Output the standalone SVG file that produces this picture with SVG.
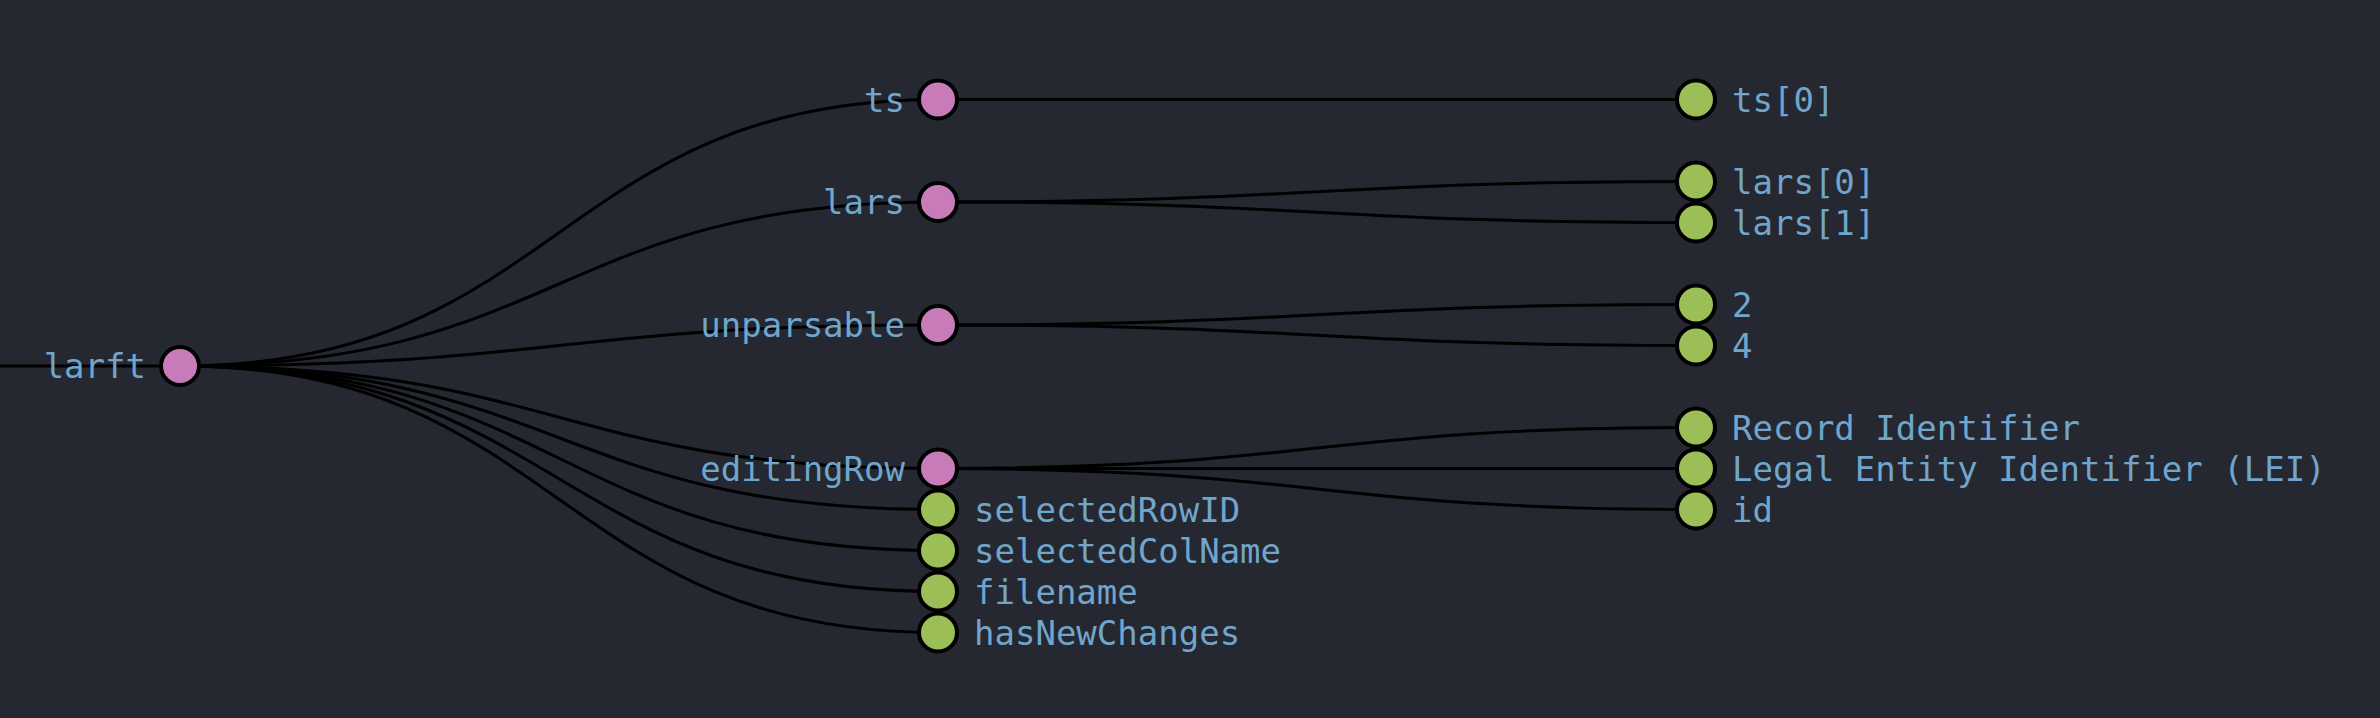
<svg xmlns="http://www.w3.org/2000/svg" width="2380" height="718" viewBox="0 0 2380 718">
<style>
.bg{fill:#252831}
.e{fill:none;stroke:#000;stroke-width:3}
.n circle{stroke:#000;stroke-width:4}
.p circle{fill:#c77bb8}
.l circle{fill:#9bbf56}
text{font-family:"DejaVu Sans Mono","Liberation Mono",monospace;font-size:34px;fill:#70a5cc}
.p text{text-anchor:end}
</style>
<rect class="bg" x="0" y="0" width="2380" height="718"/>
<g id="connectors">
<path class="e" d="M-200,366 L180,366"/>
<path class="e" d="M180,366 C559,366 559,99.5 938,99.5"/>
<path class="e" d="M180,366 C559,366 559,202 938,202"/>
<path class="e" d="M180,366 C559,366 559,325 938,325"/>
<path class="e" d="M180,366 C559,366 559,468.5 938,468.5"/>
<path class="e" d="M180,366 C559,366 559,509.5 938,509.5"/>
<path class="e" d="M180,366 C559,366 559,550.5 938,550.5"/>
<path class="e" d="M180,366 C559,366 559,591.5 938,591.5"/>
<path class="e" d="M180,366 C559,366 559,632.5 938,632.5"/>
<path class="e" d="M938,99.5 C1317,99.5 1317,99.5 1696,99.5"/>
<path class="e" d="M938,202 C1317,202 1317,181.5 1696,181.5"/>
<path class="e" d="M938,202 C1317,202 1317,222.5 1696,222.5"/>
<path class="e" d="M938,325 C1317,325 1317,304.5 1696,304.5"/>
<path class="e" d="M938,325 C1317,325 1317,345.5 1696,345.5"/>
<path class="e" d="M938,468.5 C1317,468.5 1317,427.5 1696,427.5"/>
<path class="e" d="M938,468.5 C1317,468.5 1317,468.5 1696,468.5"/>
<path class="e" d="M938,468.5 C1317,468.5 1317,509.5 1696,509.5"/>
</g>
<g id="n-larft" class="n p"><circle cx="180" cy="366" r="19"/><text x="146" y="378">larft</text></g>
<g id="n-ts" class="n p"><circle cx="938" cy="99.5" r="19"/><text x="905" y="111.5">ts</text></g>
<g id="n-lars" class="n p"><circle cx="938" cy="202" r="19"/><text x="905" y="214">lars</text></g>
<g id="n-unparsable" class="n p"><circle cx="938" cy="325" r="19"/><text x="905" y="337">unparsable</text></g>
<g id="n-editingRow" class="n p"><circle cx="938" cy="468.5" r="19"/><text x="905" y="480.5">editingRow</text></g>
<g id="n-selectedRowID" class="n l"><circle cx="938" cy="509.5" r="19"/><text x="974" y="521.5">selectedRowID</text></g>
<g id="n-selectedColName" class="n l"><circle cx="938" cy="550.5" r="19"/><text x="974" y="562.5">selectedColName</text></g>
<g id="n-filename" class="n l"><circle cx="938" cy="591.5" r="19"/><text x="974" y="603.5">filename</text></g>
<g id="n-hasNewChanges" class="n l"><circle cx="938" cy="632.5" r="19"/><text x="974" y="644.5">hasNewChanges</text></g>
<g id="n-ts0" class="n l"><circle cx="1696" cy="99.5" r="19"/><text x="1732" y="111.5">ts[0]</text></g>
<g id="n-lars0" class="n l"><circle cx="1696" cy="181.5" r="19"/><text x="1732" y="193.5">lars[0]</text></g>
<g id="n-lars1" class="n l"><circle cx="1696" cy="222.5" r="19"/><text x="1732" y="234.5">lars[1]</text></g>
<g id="n-2" class="n l"><circle cx="1696" cy="304.5" r="19"/><text x="1732" y="316.5">2</text></g>
<g id="n-4" class="n l"><circle cx="1696" cy="345.5" r="19"/><text x="1732" y="357.5">4</text></g>
<g id="n-record" class="n l"><circle cx="1696" cy="427.5" r="19"/><text x="1732" y="439.5">Record Identifier</text></g>
<g id="n-lei" class="n l"><circle cx="1696" cy="468.5" r="19"/><text x="1732" y="480.5">Legal Entity Identifier (LEI)</text></g>
<g id="n-id" class="n l"><circle cx="1696" cy="509.5" r="19"/><text x="1732" y="521.5">id</text></g>
</svg>
